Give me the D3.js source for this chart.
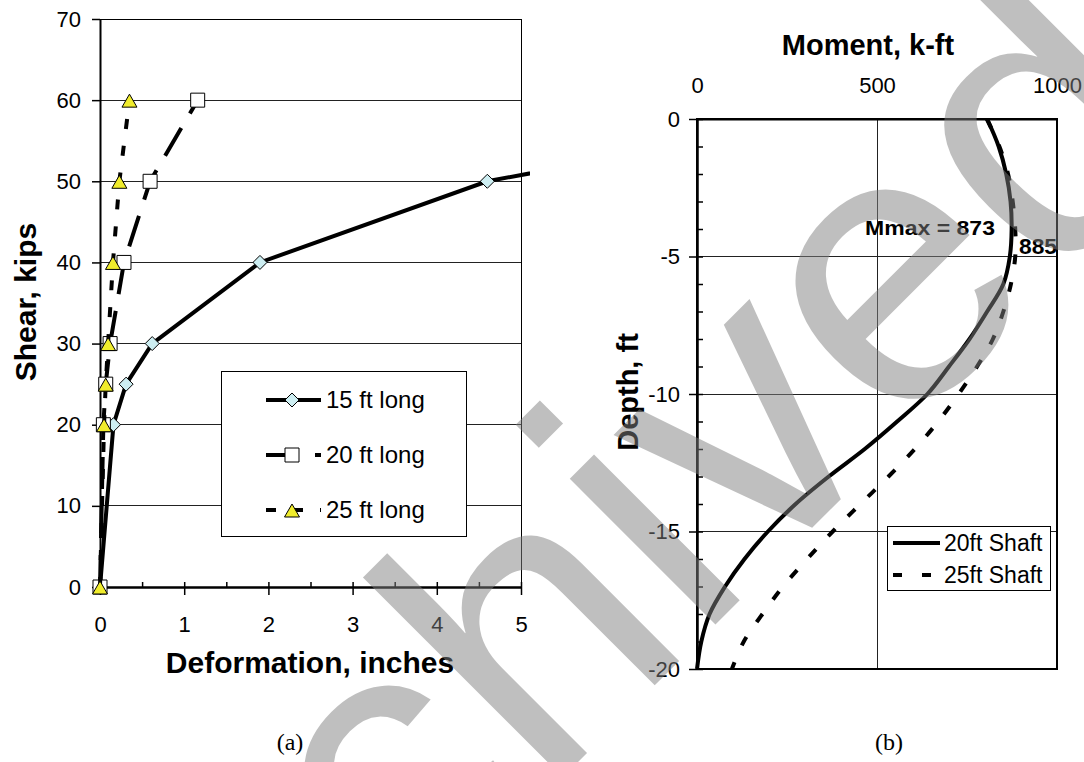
<!DOCTYPE html>
<html>
<head>
<meta charset="utf-8">
<script src="https://cdn.jsdelivr.net/npm/d3@7"></script>
<style>
  body { margin: 0; background: #fff; }
  svg { display: block; font-family: "Liberation Sans", Arial, sans-serif; }
</style>
</head>
<body>
<div id="chart"></div>
<script>
const width = 1084, height = 762;

// (a) shear vs deformation
const shearTicks = [0, 10, 20, 30, 40, 50, 60, 70];
const deformTicks = [0, 1, 2, 3, 4, 5];
const deformMinor = [0, 0.5, 1, 1.5, 2, 2.5, 3, 3.5, 4, 4.5, 5];

const shear15 = [0, 20, 25, 30, 40, 50, 52.7];
const deform15 = [0, 0.16, 0.31, 0.62, 1.90, 4.60, 6.0];
const shear20 = [0, 20, 25, 30, 40, 50, 60];
const deform20 = [0, 0.04, 0.068, 0.12, 0.285, 0.595, 1.16];
const shear25 = [0, 20, 25, 30, 40, 50, 60];
const deform25 = [0, 0.048, 0.068, 0.096, 0.154, 0.23, 0.35];

// (b) moment vs depth
const momentTicks = [0, 500, 1000];
const depthTicks = [0, -5, -10, -15, -20];
const depthMinor = [0, -1, -2, -3, -4, -5, -6, -7, -8, -9, -10, -11, -12, -13, -14, -15, -16, -17, -18, -19, -20];
const depth = [0, -1, -2, -3, -4, -5, -6, -7, -8, -9, -10, -11, -12, -13, -14, -15, -16, -17, -18, -19, -20];
const moment20 = [806, 838, 859, 871, 874, 869, 851, 806, 757, 700, 640, 556, 466, 366, 274, 197, 132, 78, 35, 12, 0];
const moment25 = [805, 840, 864, 877, 884, 884, 872, 851, 822, 778, 727, 670, 605, 532, 454, 377, 306, 239, 182, 130, 97];

const svg = d3.select("#chart")
  .append("svg")
  .attr("width", width)
  .attr("height", height);

svg.append("defs").append("clipPath")
  .attr("id", "clipA")
  .append("rect")
  .attr("x", 0).attr("y", 0).attr("width", 530).attr("height", height);

const fmt = d => String(d);

// ---------- panel (a) ----------
const a = { left: 100, right: 521, top: 19, bottom: 587 };
const x = d3.scaleLinear().domain([0, 5]).range([a.left, a.right]);
const y = d3.scaleLinear().domain([0, 70]).range([a.bottom, a.top]);

// gridlines
svg.append("g")
  .attr("shape-rendering", "crispEdges")
  .selectAll("line")
  .data(shearTicks.slice(1, -1))
  .join("line")
  .attr("x1", a.left).attr("x2", a.right)
  .attr("y1", d => y(d)).attr("y2", d => y(d))
  .attr("stroke", "#222");

svg.append("rect")
  .attr("x", a.left).attr("y", a.top)
  .attr("width", a.right - a.left).attr("height", a.bottom - a.top)
  .attr("fill", "none").attr("stroke", "#000")
  .attr("shape-rendering", "crispEdges");

const styleAxis = g => {
  g.attr("font-family", null).attr("font-size", 22);
  g.select(".domain").attr("stroke-width", 2);
  g.selectAll(".tick line").attr("stroke-width", 1.5);
};

svg.append("g")
  .attr("transform", `translate(${a.left},0)`)
  .call(d3.axisLeft(y).tickValues(shearTicks).tickFormat(fmt).tickSize(8).tickSizeOuter(0).tickPadding(11))
  .call(styleAxis);

svg.append("g")
  .attr("transform", `translate(0,${a.bottom})`)
  .call(d3.axisTop(x).tickValues(deformMinor).tickSize(5).tickSizeOuter(0).tickFormat(""))
  .call(styleAxis);

svg.append("g")
  .attr("transform", `translate(0,${a.bottom})`)
  .call(d3.axisBottom(x).tickValues(deformTicks).tickFormat(fmt).tickSize(8).tickSizeOuter(0).tickPadding(21))
  .call(styleAxis);

const lineA = d3.line().x(d => x(d[0])).y(d => y(d[1]));

const diamond = "M0,-7L7,0L0,7L-7,0Z";
const square = "M-7,-7H7V7H-7Z";
const triangle = "M0,-6L7.5,7L-7.5,7Z";

const seriesA = [
  { pts: d3.zip(deform15, shear15), dash: null, shape: diamond, fill: "#cdeef2", label: "15 ft long" },
  { pts: d3.zip(deform20, shear20), dash: "32,17", shape: square, fill: "#ffffff", label: "20 ft long" },
  { pts: d3.zip(deform25, shear25), dash: "10,17", shape: triangle, fill: "#f0ec2c", label: "25 ft long" }
];

const plotA = svg.append("g").attr("clip-path", "url(#clipA)");
for (let s of seriesA) {
  plotA.append("path")
    .datum(s.pts)
    .attr("fill", "none")
    .attr("stroke", "#000")
    .attr("stroke-width", 4)
    .attr("stroke-dasharray", s.dash)
    .attr("d", lineA);
  plotA.selectAll(null)
    .data(s.pts)
    .join("path")
    .attr("d", s.shape)
    .attr("transform", d => `translate(${x(d[0])},${y(d[1])})`)
    .attr("fill", s.fill)
    .attr("stroke", "#000")
    .attr("stroke-width", 1);
}

// legend (a)
const legA = svg.append("g");
legA.append("rect")
  .attr("x", 221).attr("y", 371).attr("width", 245).attr("height", 165)
  .attr("fill", "#fff").attr("stroke", "#000").attr("shape-rendering", "crispEdges");
seriesA.forEach((s, i) => {
  const ly = 400 + i * 55;
  legA.append("line")
    .attr("x1", 266).attr("x2", 321).attr("y1", ly).attr("y2", ly)
    .attr("stroke", "#000").attr("stroke-width", 4)
    .attr("stroke-dasharray", s.dash);
  legA.append("path")
    .attr("d", s.shape)
    .attr("transform", `translate(292,${ly})`)
    .attr("fill", s.fill).attr("stroke", "#000");
  legA.append("text")
    .attr("x", 326).attr("y", ly).attr("dy", "0.35em")
    .attr("font-size", 24)
    .text(s.label);
});

svg.append("text")
  .attr("x", 310).attr("y", 673)
  .attr("text-anchor", "middle")
  .attr("font-weight", "bold").attr("font-size", 30)
  .text("Deformation, inches");

svg.append("text")
  .attr("transform", "translate(36,302) rotate(-90)")
  .attr("text-anchor", "middle")
  .attr("font-weight", "bold").attr("font-size", 30)
  .text("Shear, kips");

// ---------- panel (b) ----------
const b = { left: 697, right: 1057, top: 119, bottom: 669 };
const mx = d3.scaleLinear().domain([0, 1000]).range([b.left, b.right]);
const dy = d3.scaleLinear().domain([0, -20]).range([b.top, b.bottom]);

const gridB = svg.append("g").attr("shape-rendering", "crispEdges");
gridB.selectAll(".h")
  .data(depthTicks.slice(1, -1))
  .join("line")
  .attr("x1", b.left).attr("x2", b.right)
  .attr("y1", d => dy(d)).attr("y2", d => dy(d))
  .attr("stroke", "#222");
gridB.selectAll(".v")
  .data(momentTicks.slice(1, -1))
  .join("line")
  .attr("x1", d => mx(d)).attr("x2", d => mx(d))
  .attr("y1", b.top).attr("y2", b.bottom)
  .attr("stroke", "#222");

svg.append("rect")
  .attr("x", b.left).attr("y", b.top)
  .attr("width", b.right - b.left).attr("height", b.bottom - b.top)
  .attr("fill", "none").attr("stroke", "#000").attr("stroke-width", 1.5)
  .attr("shape-rendering", "crispEdges");

svg.append("g")
  .attr("transform", `translate(0,${b.top})`)
  .call(d3.axisTop(mx).tickValues(momentTicks).tickFormat(fmt).tickSize(0).tickSizeOuter(0).tickPadding(26))
  .call(styleAxis);

svg.append("g")
  .attr("transform", `translate(${b.left},0)`)
  .call(d3.axisRight(dy).tickValues(depthMinor).tickSize(6).tickSizeOuter(0).tickFormat(""))
  .call(styleAxis);

svg.append("g")
  .attr("transform", `translate(${b.left},0)`)
  .call(d3.axisLeft(dy).tickValues(depthTicks).tickFormat(fmt).tickSize(8).tickSizeOuter(0).tickPadding(9))
  .call(styleAxis);

const lineB = d3.line()
  .x(d => mx(d[0]))
  .y(d => dy(d[1]))
  .curve(d3.curveCatmullRom);

const seriesB = [
  { pts: d3.zip(moment20, depth), dash: null, label: "20ft Shaft" },
  { pts: d3.zip(moment25, depth), dash: "10,18", label: "25ft Shaft" }
];

for (let s of seriesB) {
  svg.append("path")
    .datum(s.pts)
    .attr("fill", "none")
    .attr("stroke", "#000")
    .attr("stroke-width", 4)
    .attr("stroke-dasharray", s.dash)
    .attr("d", lineB);
}

svg.append("text")
  .attr("x", 865).attr("y", 235)
  .attr("font-weight", "bold").attr("font-size", 21)
  .attr("textLength", 130).attr("lengthAdjust", "spacingAndGlyphs")
  .text("Mmax = 873");
svg.append("text")
  .attr("x", 1019).attr("y", 254)
  .attr("font-weight", "bold").attr("font-size", 22)
  .attr("textLength", 38).attr("lengthAdjust", "spacingAndGlyphs")
  .text("885");

// legend (b)
const legB = svg.append("g");
legB.append("rect")
  .attr("x", 887).attr("y", 526).attr("width", 163).attr("height", 64)
  .attr("fill", "#fff").attr("stroke", "#000").attr("shape-rendering", "crispEdges");
seriesB.forEach((s, i) => {
  const ly = 543 + i * 32;
  legB.append("line")
    .attr("x1", 893).attr("x2", 940).attr("y1", ly).attr("y2", ly)
    .attr("stroke", "#000").attr("stroke-width", 4)
    .attr("stroke-dasharray", s.dash ? "9,20" : null);
  legB.append("text")
    .attr("x", 944).attr("y", ly).attr("dy", "0.35em")
    .attr("font-size", 23)
    .text(s.label);
});

svg.append("text")
  .attr("x", 868).attr("y", 55)
  .attr("text-anchor", "middle")
  .attr("font-weight", "bold").attr("font-size", 29)
  .text("Moment, k-ft");

svg.append("text")
  .attr("transform", "translate(638,392) rotate(-90)")
  .attr("text-anchor", "middle")
  .attr("font-weight", "bold").attr("font-size", 29)
  .text("Depth, ft");

// captions
svg.append("text")
  .attr("x", 290).attr("y", 750)
  .attr("text-anchor", "middle")
  .attr("font-family", "'Liberation Serif', 'Times New Roman', serif")
  .attr("font-size", 24)
  .text("(a)");
svg.append("text")
  .attr("x", 889).attr("y", 750)
  .attr("text-anchor", "middle")
  .attr("font-family", "'Liberation Serif', 'Times New Roman', serif")
  .attr("font-size", 24)
  .text("(b)");

// watermark over everything
svg.append("text")
  .attr("transform", "translate(130,1210) rotate(-45)")
  .attr("font-size", 390)
  .attr("fill", "#7f7f7f")
  .attr("fill-opacity", 0.5)
  .text("Archived");
</script>
</body>
</html>
